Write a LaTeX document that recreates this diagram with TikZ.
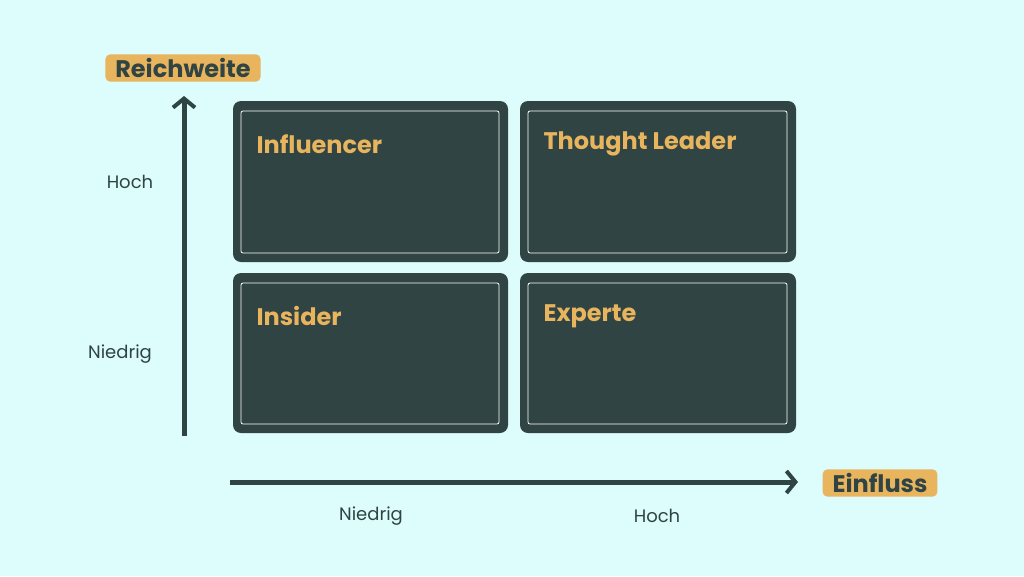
\documentclass[tikz,border=0pt]{standalone}
\usepackage{fontspec}
\setmainfont{Poppins}
\usetikzlibrary{arrows.meta}
\definecolor{bg}{HTML}{DDFCFC}
\definecolor{dk}{HTML}{2F4443}
\definecolor{gd}{HTML}{E8B45E}
\tikzset{x=1pt,y=-1pt,
 quad/.style={fill=dk,rounded corners=8pt},
 inner/.style={draw=white,line width=0.8pt,rounded corners=2pt},
 ttl/.style={anchor=west,text=gd,font=\bfseries\fontsize{24}{28}\selectfont},
 axl/.style={text=dk,font=\fontsize{18}{22}\selectfont},
 tag/.style={fill=gd,rounded corners=5pt,text=dk,font=\bfseries\fontsize{24}{28}\selectfont,inner xsep=10pt,inner ysep=4pt},
 axis/.style={draw=dk,line width=5pt,-{Straight Barb[length=9pt,width=22pt,line width=4pt]}}}
\begin{document}
\begin{tikzpicture}
\fill[bg] (0,0) rectangle (1024,576);
\useasboundingbox (0,0) rectangle (1024,576);
\foreach \n/\a/\b/\c/\d/\t in {q1/233/101/508/262/Influencer,q2/520/101/796/262/Thought Leader,q3/233/273/508/433/Insider,q4/520/273/796/433/Experte}{
 \fill[quad] (\a,\b) rectangle (\c,\d);
 \draw[inner] (\a+8,\b+10) rectangle (\c-9,\d-9);
 \node[ttl] (\n) at (\a+20,\b+43) {\t};
}
\node[tag] (rw) at (183,68) {Reichweite};
\node[tag] (ef) at (880,483) {Einfluss};
\coordinate (v0) at (184,436);
\coordinate (v1) at (184,96);
\coordinate (h0) at (230,482);
\coordinate (h1) at (798,482);
\draw[axis] (v0) -- (v1);
\draw[axis] (h0) -- (h1);
\node[axl] (yh) at (130,182) {Hoch};
\node[axl] (yn) at (120,354) {Niedrig};
\node[axl] (xn) at (371,516) {Niedrig};
\node[axl] (xh) at (657,516) {Hoch};
\end{tikzpicture}
\end{document}
